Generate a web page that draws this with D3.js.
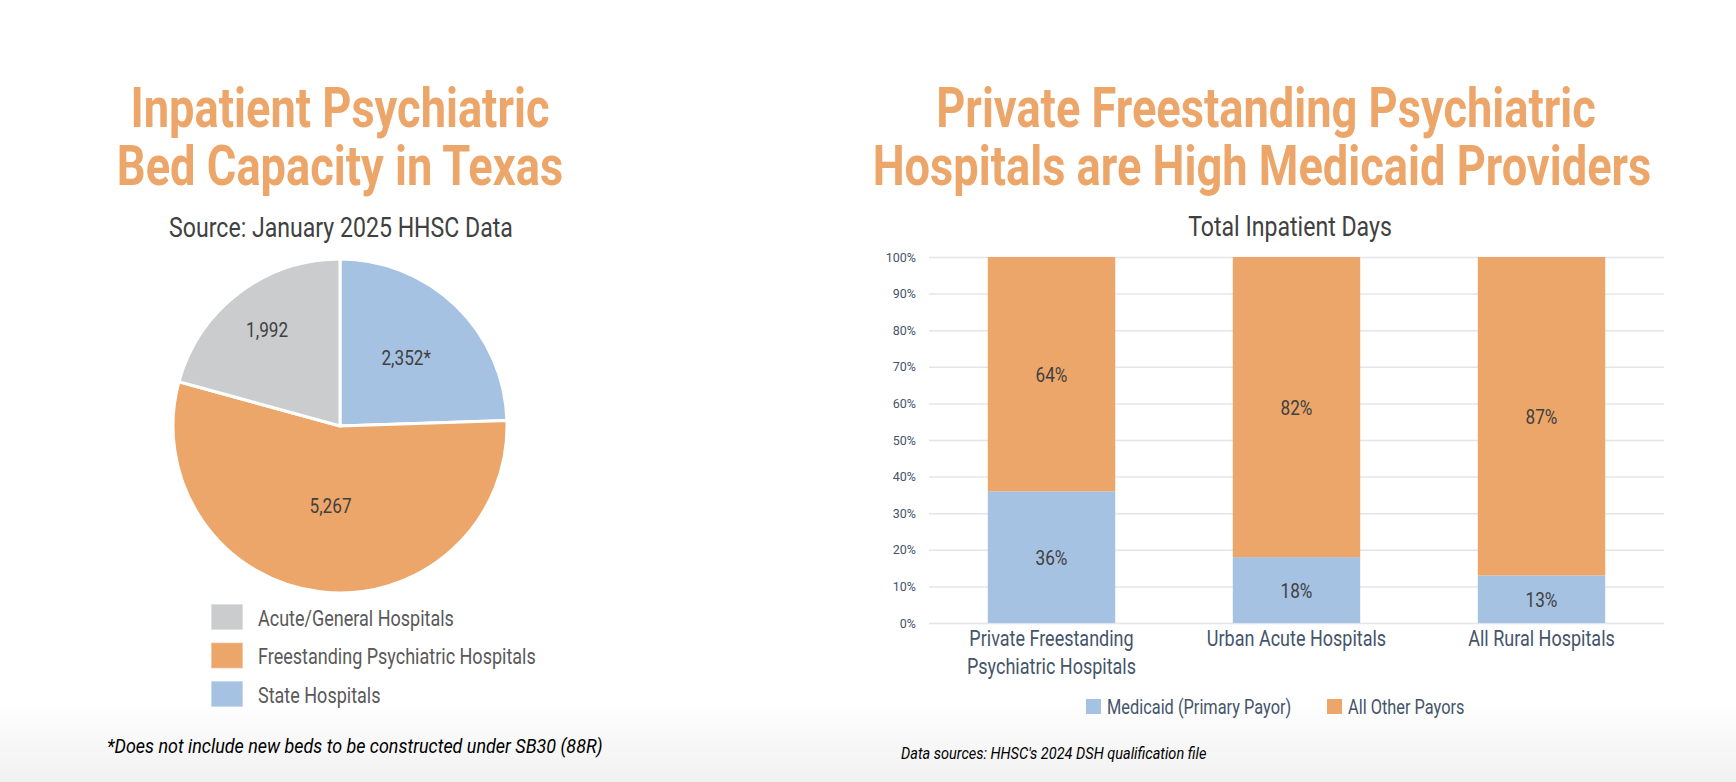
<!DOCTYPE html>
<html>
<head>
<meta charset="utf-8">
<script src="https://cdn.jsdelivr.net/npm/d3@7"></script>
<style>
  body { margin: 0; background: #fff; }
  svg { display: block; font-family: Roboto, "Liberation Sans", sans-serif; }
</style>
</head>
<body>
<svg id="chart" width="1736" height="782"></svg>
<script>
// ---- pie: bed capacity (legend order) ----
const bedTypes = ["Acute/General Hospitals", "Freestanding Psychiatric Hospitals", "State Hospitals"];
const bedCounts = [1992, 5267, 2352];
const bedLabels = ["1,992", "5,267", "2,352*"];
const pieOrder = [2, 1, 0]; // clockwise from 12 o'clock

// ---- stacked bars: share of inpatient days ----
const hospitalGroups = [["Private Freestanding", "Psychiatric Hospitals"], ["Urban Acute Hospitals"], ["All Rural Hospitals"]];
const medicaidShare = [36, 18, 13];
const otherShare = [64, 82, 87];
const payorSeries = ["Medicaid (Primary Payor)", "All Other Payors"];
const yTicks = [0, 10, 20, 30, 40, 50, 60, 70, 80, 90, 100];

const ORANGE = "#EDA66A", BLUE = "#A6C2E2", GREY = "#CBCCCE";
const bedColors = [GREY, ORANGE, BLUE];
const payorColors = [BLUE, ORANGE];

const svg = d3.select("#chart");

// soft grey fade at the bottom of the slide
const defs = svg.append("defs");
const grad = defs.append("linearGradient").attr("id", "fade").attr("x1", 0).attr("x2", 0).attr("y1", 0).attr("y2", 1);
grad.append("stop").attr("offset", "0%").attr("stop-color", "#ffffff");
grad.append("stop").attr("offset", "100%").attr("stop-color", "#f1f1f1");
svg.append("rect").attr("x", 0).attr("y", 700).attr("width", 1736).attr("height", 82).attr("fill", "url(#fade)");

// the slide uses a condensed face: measure a reference string and squeeze by the ratio
function factor(str, size, weight, style, target) {
  const t = svg.append("text").text(str)
    .style("font-size", size + "px").style("font-weight", weight).style("font-style", style);
  const w = t.node().getComputedTextLength();
  t.remove();
  return target / w;
}
const kTitle = factor("Hospitals are High Medicaid Providers", 55, 700, "normal", 779);
const kSub = factor("Source: January 2025 HHSC Data", 28, 400, "normal", 344);
const kBody = factor("Acute/General Hospitals", 22, 400, "normal", 196);
const kNote = factor("*Does not include new beds to be constructed under SB30 (88R)", 21, 400, "italic", 496);

function addText(g, str, x, y, size, opts = {}) {
  const k = opts.k || 1;
  return g.append("text")
    .attr("transform", `translate(${x},${y}) scale(${k},1)`)
    .text(str)
    .attr("text-anchor", opts.anchor || "start")
    .style("font-size", size + "px")
    .style("font-weight", opts.weight || 400)
    .style("font-style", opts.italic ? "italic" : "normal")
    .attr("fill", opts.fill || "#404040");
}

// ==========================================
// Left panel: pie
// ==========================================
const left = svg.append("g");
addText(left, "Inpatient Psychiatric", 340, 127, 55, { anchor: "middle", weight: 700, fill: ORANGE, k: kTitle });
addText(left, "Bed Capacity in Texas", 340, 185, 55, { anchor: "middle", weight: 700, fill: ORANGE, k: kTitle });
addText(left, "Source: January 2025 HHSC Data", 341, 237, 28, { anchor: "middle", fill: "#404040", k: kSub });

const cx = 340, cy = 426, r = 167;
const pieData = pieOrder.map(i => ({ i, value: bedCounts[i] }));
const pie = d3.pie().sort(null).value(d => d.value);
const arc = d3.arc().innerRadius(0).outerRadius(r);
const labelFrac = [0.72, 0.48, 0.57];

const pg = left.append("g").attr("transform", `translate(${cx},${cy})`);
const arcs = pie(pieData);
pg.selectAll("path").data(arcs).enter().append("path")
  .attr("d", arc)
  .attr("fill", d => bedColors[d.data.i])
  .attr("stroke", "#fff").attr("stroke-width", 3).attr("stroke-linejoin", "round");

arcs.forEach(d => {
  const lr = r * labelFrac[d.data.i];
  const c = d3.arc().innerRadius(lr).outerRadius(lr).centroid(d);
  addText(pg, bedLabels[d.data.i], c[0], c[1] + 7, 21, { anchor: "middle", fill: "#404040", k: kBody });
});

// legend
const lg = left.append("g").attr("transform", "translate(211,604)");
bedTypes.forEach((name, i) => {
  const row = lg.append("g").attr("transform", `translate(0,${i * 38.5})`);
  row.append("rect").attr("width", 32).attr("height", 26).attr("fill", bedColors[i])
    .attr("stroke", "#fff").attr("stroke-opacity", 0.5).attr("stroke-width", 1.5);
  addText(row, name, 47, 21.5, 22, { fill: "#595959", k: kBody });
});

addText(left, "*Does not include new beds to be constructed under SB30 (88R)", 107, 753, 21,
  { italic: true, fill: "#000", k: kNote });

// ==========================================
// Right panel: 100% stacked bars
// ==========================================
const right = svg.append("g");
addText(right, "Private Freestanding Psychiatric", 1266, 127, 55, { anchor: "middle", weight: 700, fill: ORANGE, k: kTitle });
addText(right, "Hospitals are High Medicaid Providers", 1262, 185, 55, { anchor: "middle", weight: 700, fill: ORANGE, k: kTitle });
addText(right, "Total Inpatient Days", 1290, 236, 28, { anchor: "middle", fill: "#404040", k: kSub });

const x = d3.scaleBand().domain(d3.range(hospitalGroups.length)).range([929, 1664])
  .paddingInner(0.48).paddingOuter(0.24);
const y = d3.scaleLinear().domain([0, 100]).range([623, 257]);

// gridlines + percent ticks
const yAxis = right.append("g").attr("transform", "translate(929,0)")
  .call(d3.axisLeft(y).tickValues(yTicks).tickSize(-735).tickPadding(13).tickFormat(d => d + "%"));
yAxis.select(".domain").remove();
yAxis.selectAll(".tick line").attr("stroke", "#E4E4EC").attr("stroke-width", 1.5);
yAxis.selectAll(".tick text").attr("fill", "#44546A")
  .style("font-size", "12.5px").style("font-family", "Roboto, sans-serif");

const rows = hospitalGroups.map((g, i) => ({ i, medicaid: medicaidShare[i], other: otherShare[i] }));
const stack = d3.stack().keys(["medicaid", "other"]);
const layers = stack(rows);

const barG = right.append("g");
layers.forEach((layer, li) => {
  barG.selectAll(null).data(layer).enter().append("rect")
    .attr("x", d => x(d.data.i))
    .attr("width", x.bandwidth())
    .attr("y", d => y(d[1]))
    .attr("height", d => y(d[0]) - y(d[1]))
    .attr("fill", payorColors[li]);
  layer.forEach(d => {
    addText(barG, (d[1] - d[0]) + "%", x(d.data.i) + x.bandwidth() / 2, y((d[0] + d[1]) / 2) + 7.5, 21,
      { anchor: "middle", fill: "#404040", k: kBody });
  });
});

// category labels
hospitalGroups.forEach((lines, i) => {
  lines.forEach((line, j) => {
    addText(right, line, x(i) + x.bandwidth() / 2, 646 + j * 28, 22,
      { anchor: "middle", fill: "#44546A", k: kBody });
  });
});

// legend
const legendX = [1086, 1327];
payorSeries.forEach((name, i) => {
  right.append("rect").attr("x", legendX[i]).attr("y", 699).attr("width", 15).attr("height", 15).attr("fill", payorColors[i]);
  addText(right, name, legendX[i] + 21, 714, 20, { fill: "#44546A", k: kBody });
});

addText(right, "Data sources: HHSC's 2024 DSH qualification file", 901, 759, 17,
  { italic: true, fill: "#000", k: kNote });
</script>
</body>
</html>
